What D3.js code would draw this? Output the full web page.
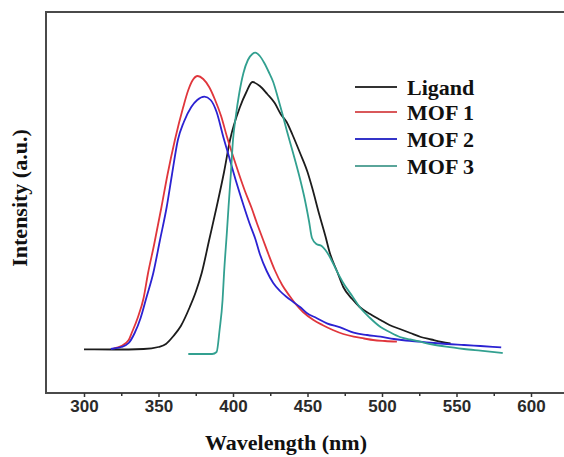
<!DOCTYPE html>
<html>
<head>
<meta charset="utf-8">
<script src="https://cdn.jsdelivr.net/npm/d3@7"></script>
<style>
  html, body { margin: 0; padding: 0; background: #fff; }
  svg { display: block; }
</style>
</head>
<body>
<svg id="chart" width="564" height="457"></svg>
<script>
// ---- data (wavelength in nm, intensity in a.u.) ----
const ligandWl = [300,320,340,350,355,360,365,371,375,379,384,389,394,398,404.7,409,413,418,423,428,432,436,440,445,450,453,458,462,465,470,474,480,485,492,499,505,512,519,526,533,540,546];
const ligandI  = [43.7,43.5,44,46,49,57,67,86,101,120,153,186,221,253,286,301,311,307,299,290,279,271,258,240,221,206,178,157,140,121,106,94,86,79,73,68,64,60,56,53.5,51,49.5];

const mof1Wl = [320,325,330,332,336,340,343,347,352,356,361,366.6,370,373,376.3,380,384,388,392,396,400,404,408,412.5,416,420,424,428,433,438,442,447,454,460,467,474,481,488,494,502,510];
const mof1I  = [44.7,47,53,60,75,95,120,148,186,218,253,286,303,313,317,314,306,293,277,256,237,219,202,185,170,154,138,123,108,97,89,81,73,68,63,59,56.3,54.5,53,52,51.3];

const mof2Wl = [318,320,325,330,334,338,342,346.5,351,355.5,359,363,367,372,376,380.8,385,389,393.5,397,402,407,411,415,418,422.6,427,431.5,436,440.5,445,449.5,456,463,472,481,490,499,508,516,525.5,535,543.4,555,566,580];
const mof2I  = [44,44.5,46,50,60,75,96,120,153,186,218,253,271,286,293,296.3,293,281,256,238,212,188,170,154,139,122,110,102,96,91,86,80,75,69.7,65.7,60.3,58,56.3,54,52.5,51.3,50,49,48,47,45.7];

const mof3Wl = [370,380,386,389,391,393,394,396,397,398.5,400,402,404,407,410,413,415,418,421,424,427,430,433,436,439,442,445,448,451,453,456,459.5,462,465,470,474,480,485,492,499,505,512,519,525.5,534,543,555,566,581];
const mof3I  = [39,39,39,41,63,93,120,163,186,218,253,278,298,320,333,339,340.3,337,330,321,311,296,280,263,247,231,214,195,172,155,149,147,143,136,121,110,97,86,75,66,61,56,53.5,51.3,48.5,46.3,44,42.3,40];

const seriesNames = ["Ligand", "MOF 1", "MOF 2", "MOF 3"];
const seriesColors = ["#1c1c1c", "#e0363c", "#2b22d2", "#32a090"];
const legendColors = ["#333333", "#d9585a", "#3434c8", "#5aa59a"];

const xTicks = [300, 350, 400, 450, 500, 550, 600];
const xMinorTicks = [325, 375, 425, 475, 525, 575];

const xLabel = "Wavelength (nm)";
const yLabel = "Intensity (a.u.)";

// ---- layout ----
const svg = d3.select("#chart");
const frame = { left: 46, top: 12, right: 572, bottom: 393 };

const x = d3.scaleLinear().domain([300, 600]).range([84, 531]);
const y = d3.scaleLinear().domain([0, 381]).range([frame.bottom, frame.top]);

// frame (left, top, bottom; right edge falls off the picture)
svg.append("rect")
  .attr("x", frame.left).attr("y", frame.top)
  .attr("width", frame.right - frame.left).attr("height", frame.bottom - frame.top)
  .attr("fill", "none").attr("stroke", "#4a4a4a").attr("stroke-width", 2);

// x axis
const axis = svg.append("g").attr("transform", `translate(0,${frame.bottom})`)
  .call(d3.axisBottom(x).tickValues(xTicks).tickSize(4).tickPadding(3).tickFormat(d3.format("d")));
axis.select(".domain").remove();
axis.selectAll(".tick line").attr("stroke", "#333").attr("stroke-width", 1.5);
axis.selectAll(".tick text")
  .attr("fill", "#2a2a2a")
  .style("font-family", "'Liberation Sans', Arial, sans-serif")
  .style("font-size", "17px").style("font-weight", "bold");

const minor = svg.append("g").attr("transform", `translate(0,${frame.bottom})`)
  .call(d3.axisBottom(x).tickValues(xMinorTicks).tickSize(3).tickFormat(""));
minor.select(".domain").remove();
minor.selectAll(".tick line").attr("stroke", "#333").attr("stroke-width", 1.5);

// curves
const line = d3.line().x(d => x(d[0])).y(d => y(d[1])).curve(d3.curveMonotoneX);
const allWl = [ligandWl, mof1Wl, mof2Wl, mof3Wl];
const allI = [ligandI, mof1I, mof2I, mof3I];
allWl.forEach((wl, k) => {
  const pts = wl.map((w, i) => [w, allI[k][i]]);
  svg.append("path").datum(pts)
    .attr("d", line)
    .attr("fill", "none")
    .attr("stroke", seriesColors[k])
    .attr("stroke-width", 1.8)
    .attr("stroke-linejoin", "round");
});

// legend
const lg = svg.append("g");
const legendY = [87, 112, 139, 166];
seriesNames.forEach((name, i) => {
  lg.append("line")
    .attr("x1", 355).attr("x2", 397)
    .attr("y1", legendY[i]).attr("y2", legendY[i])
    .attr("stroke", legendColors[i]).attr("stroke-width", 2);
  lg.append("text")
    .attr("x", 407).attr("y", legendY[i] + 7.5)
    .text(name)
    .attr("fill", "#111")
    .style("font-family", "'Liberation Serif', 'Times New Roman', serif")
    .style("font-size", "22px").style("font-weight", "bold");
});

// axis titles
svg.append("text")
  .attr("x", 286).attr("y", 450)
  .attr("text-anchor", "middle")
  .text(xLabel)
  .attr("fill", "#111")
  .style("font-family", "'Liberation Serif', 'Times New Roman', serif")
  .style("font-size", "22px").style("font-weight", "bold");

svg.append("text")
  .attr("transform", "translate(27,198) rotate(-90)")
  .attr("text-anchor", "middle")
  .text(yLabel)
  .attr("fill", "#111")
  .style("font-family", "'Liberation Serif', 'Times New Roman', serif")
  .style("font-size", "22px").style("font-weight", "bold");
</script>
</body>
</html>
